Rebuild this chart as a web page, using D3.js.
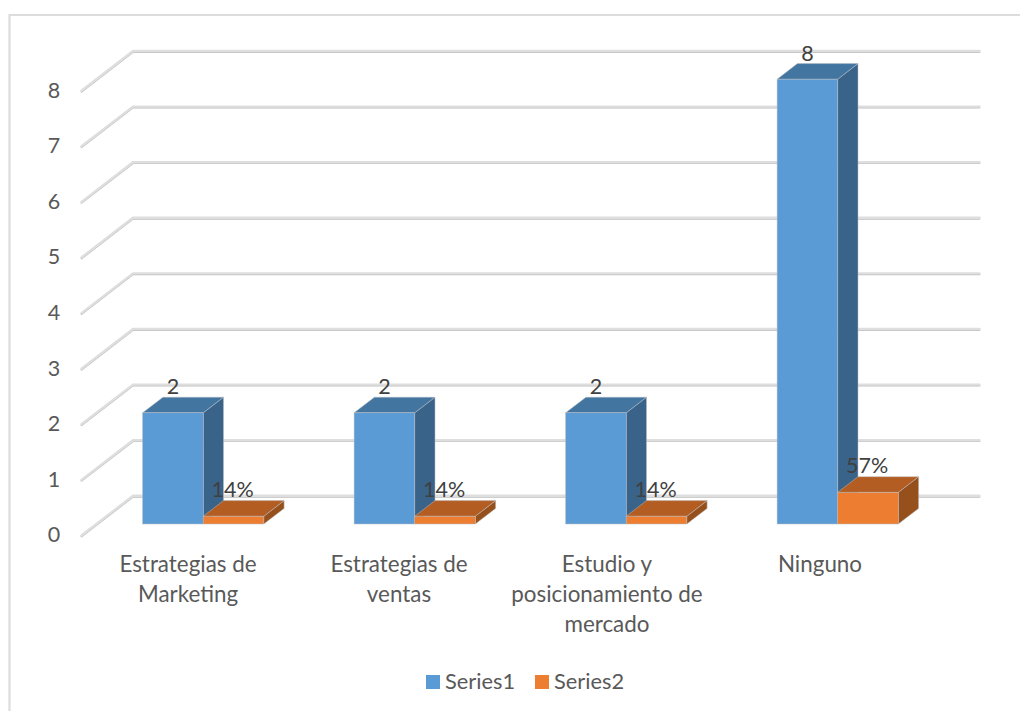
<!DOCTYPE html>
<html>
<head>
<meta charset="utf-8">
<script src="https://cdn.jsdelivr.net/npm/d3@7/dist/d3.min.js"></script>
<style>
  html, body { margin: 0; padding: 0; background: #fff; }
  svg { display: block; }
  text { font-family: Lato, "Open Sans", sans-serif; }
</style>
</head>
<body>
<svg id="chart" width="1020" height="711"></svg>
<script>
const categories = [
  ["Estrategias de", "Marketing"],
  ["Estrategias de", "ventas"],
  ["Estudio y", "posicionamiento de", "mercado"],
  ["Ninguno"]
];
const series1 = [2, 2, 2, 8];
const series2 = [0.14, 0.14, 0.14, 0.57];
const series1Labels = ["2", "2", "2", "8"];
const series2Labels = ["14%", "14%", "14%", "57%"];
const seriesNames = ["Series1", "Series2"];
const tickValues = [0, 1, 2, 3, 4, 5, 6, 7, 8];

const svg = d3.select("#chart");

// Chart frame: only the top and left edges fall inside the page
svg.append("path")
  .attr("d", "M1020,15 H9.5 V711")
  .attr("fill", "none").attr("stroke", "#dcdcdc").attr("stroke-width", 2.2);

// Front plane of the 3D box; the back wall is shifted by the depth offset.
const y = d3.scaleLinear().domain([0, 8]).range([535.5, 90.7]);
const x = d3.scaleBand().domain(d3.range(categories.length)).range([112, 958]).paddingInner(0).paddingOuter(0);
const floorDx = 51.5, floorDy = -39.7;      // wall depth
const barDx = 20.3, barDy = -15.6;          // bar depth
const barBase = 524;                        // front bottom edge of the bars
const unit = y(0) - y(1);
const barW = 60.6;
const groupOffset = 30.6;
const gridRight = 979.5;

// Gridlines: diagonal on the side wall, then across the back wall
const grid = svg.append("g").attr("fill", "none").attr("stroke-linecap", "round").attr("stroke-linejoin", "miter");
const gridPath = v => {
  const p = d3.path();
  p.moveTo(81.5, y(v));
  p.lineTo(81.5 + floorDx, y(v) + floorDy);
  p.lineTo(gridRight, y(v) + floorDy);
  return p.toString();
};
grid.selectAll("path.shadow").data(tickValues).join("path").attr("class", "shadow")
  .attr("d", gridPath).attr("transform", "translate(0,1)")
  .attr("stroke", "#bfbfbf").attr("stroke-width", 1.8);
grid.selectAll("path.line").data(tickValues).join("path").attr("class", "line")
  .attr("d", gridPath)
  .attr("stroke", "#dedede").attr("stroke-width", 2.4);

// Value axis labels
svg.append("g").selectAll("text").data(tickValues).join("text")
  .attr("x", 54).attr("y", d => y(d) + 6.8)
  .attr("text-anchor", "middle").attr("font-size", 21.5).attr("fill", "#595959")
  .text(d => d);

// Draws one extruded bar: top and side faces, then the front face
function bar3d(g, x0, value, front, top, side) {
  const h = value * unit, x1 = x0 + barW, yt = barBase - h;
  const poly = pts => g.append("polygon").attr("points", pts.map(p => p.join(",")).join(" "))
    .attr("stroke", "#b8bcc0").attr("stroke-width", 0.5);
  poly([[x1, barBase], [x1 + barDx, barBase + barDy], [x1 + barDx, yt + barDy], [x1, yt]]).attr("fill", side);
  poly([[x0, yt], [x0 + barDx, yt + barDy], [x1 + barDx, yt + barDy], [x1, yt]]).attr("fill", top);
  g.append("rect").attr("x", x0).attr("y", yt).attr("width", barW).attr("height", h).attr("fill", front)
    .attr("stroke", "#b8bcc0").attr("stroke-width", 0.5);
}

const marks = svg.append("g");
categories.forEach((c, i) => {
  const x0 = x(i) + groupOffset;
  const g = marks.append("g");
  bar3d(g, x0, series1[i], "#5b9bd5", "#4375a1", "#3a638a");
  bar3d(g, x0 + barW, series2[i], "#ed7d31", "#b45d22", "#96501c");
});

// Data labels
const labelStyle = s => s.attr("text-anchor", "middle").attr("font-size", 21.5).attr("fill", "#404040");
categories.forEach((c, i) => {
  const x0 = x(i) + groupOffset;
  svg.append("text").call(labelStyle)
    .attr("x", x0 + 30.5).attr("y", barBase - series1[i] * unit - 18.5).text(series1Labels[i]);
  svg.append("text").call(labelStyle)
    .attr("x", x0 + 90).attr("y", barBase - series2[i] * unit - 19).text(series2Labels[i]);
});

// Category labels
const catCenters = [188, 399, 607, 820];
categories.forEach((lines, i) => {
  lines.forEach((t, k) => {
    svg.append("text").attr("x", catCenters[i]).attr("y", 571.5 + k * 30)
      .attr("text-anchor", "middle").attr("font-size", 22.4).attr("fill", "#595959").text(t);
  });
});

// Legend
const legendX = [426, 535];
seriesNames.forEach((n, i) => {
  svg.append("rect").attr("x", legendX[i]).attr("y", 675).attr("width", 14).attr("height", 14)
    .attr("fill", i ? "#ed7d31" : "#5b9bd5");
  svg.append("text").attr("x", legendX[i] + 19).attr("y", 689)
    .attr("font-size", 21.8).attr("fill", "#595959").text(n);
});
</script>
</body>
</html>
